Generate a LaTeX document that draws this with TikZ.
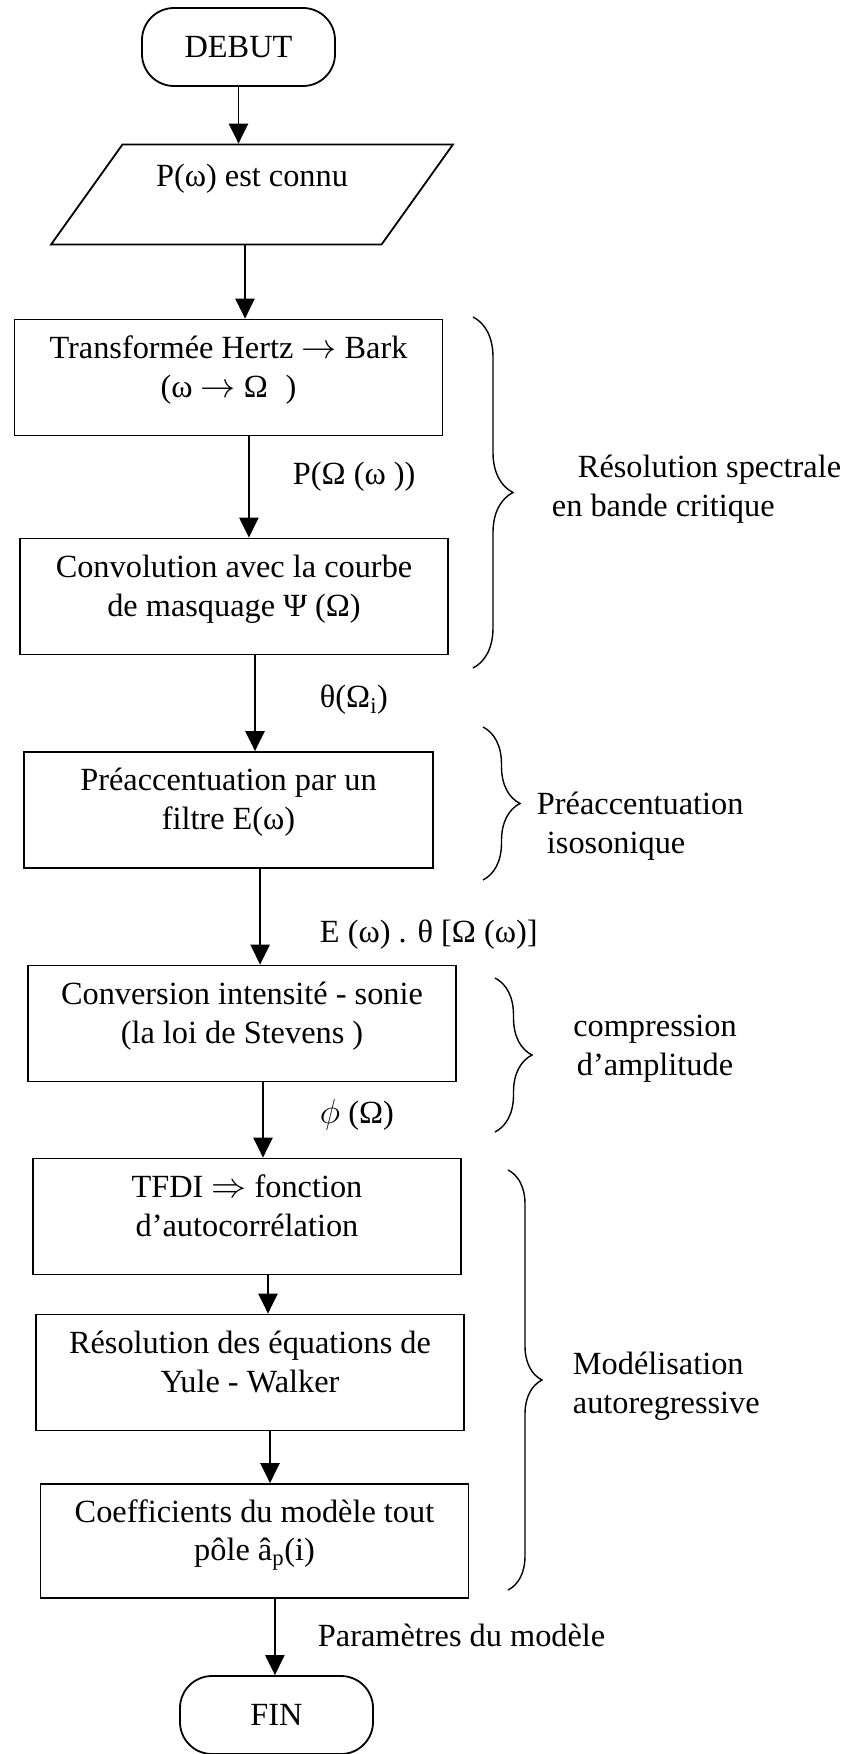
\documentclass[tikz,border=0pt]{standalone}
\usepackage{fontspec}
\setmainfont{Liberation Serif}
\usepackage{tikz}
\usetikzlibrary{arrows.meta,positioning,shapes,decorations.pathreplacing}

\begin{document}
\begin{tikzpicture}[x=0.25mm, y=-0.25mm,
                    every node/.style={font=\fontsize{23pt}{27.5pt}\selectfont},
                    terminal/.style={draw, line width=0.45mm, rounded corners=8mm,
                                     minimum width=48.25mm, minimum height=19.5mm},
                    donnee/.style={draw, line width=0.45mm, trapezium, trapezium left angle=52,
                                   trapezium right angle=128, trapezium stretches=true,
                                   minimum width=100.5mm, minimum height=25mm, text depth=9.8mm},
                    etape/.style={draw, line width=0.45mm, align=center, minimum width=107mm,
                                  minimum height=29mm, text depth=5.5mm},
                    fleche/.style={line width=0.45mm, -{Triangle[length=5mm, width=4.8mm]}},
                    accolade/.style={line width=0.35mm, decorate, decoration={brace, amplitude=#1}},
                    legende/.style={anchor=west, align=left}]

    \useasboundingbox (0,0) rectangle (846,1754);

    \node[terminal] (debut) at (238.5,47) {DEBUT};
    \node[donnee] (spectre) at (252,194.5) {P(ω) est connu};
    \node[etape] (hertz) at (228.5,377.5) {Transformée Hertz $\rightarrow$ Bark\\(ω $\rightarrow$ Ω\hspace{.55em})};
    \node[etape] (convol) at (234,596.5) {Convolution avec la courbe\\de masquage Ψ (Ω)};
    \node[etape, minimum width=102.25mm] (preacc) at (228.5,810) {Préaccentuation par un\\filtre E(ω)};
    \node[etape] (sonie) at (242,1023.5) {Conversion intensité - sonie\\(la loi de Stevens )};
    \node[etape] (tfdi) at (247,1216.5) {TFDI $\Rightarrow$ fonction\\d’autocorrélation};
    \node[etape] (yule) at (250,1372.5) {Résolution des équations de\\Yule - Walker};
    \node[etape, minimum height=28.5mm] (coeff) at (254.5,1541) {Coefficients du modèle tout\\pôle â\textsubscript{p}(i)};
    \node[terminal] (fin) at (276.5,1715) {FIN};

    \draw[fleche] (debut) -- (debut |- spectre.north);
    \draw[fleche] ([xshift=-1.75mm]spectre.south) -- ([xshift=-1.75mm]spectre.south |- hertz.north);
    \draw[fleche] ([xshift=5.1mm]hertz.south) -- ([xshift=5.1mm]hertz.south |- convol.north);
    \draw[fleche] ([xshift=5.25mm]convol.south) -- ([xshift=5.25mm]convol.south |- preacc.north);
    \draw[fleche] ([xshift=7.9mm]preacc.south) -- ([xshift=7.9mm]preacc.south |- sonie.north);
    \draw[fleche] ([xshift=5.25mm]sonie.south) -- ([xshift=5.25mm]sonie.south |- tfdi.north);
    \draw[fleche] ([xshift=5.25mm]tfdi.south) -- ([xshift=5.25mm]tfdi.south |- yule.north);
    \draw[fleche] ([xshift=5mm]yule.south) -- ([xshift=5mm]yule.south |- coeff.north);
    \draw[fleche] ([xshift=5.1mm]coeff.south) -- ([xshift=5.1mm]coeff.south |- fin.north);

    \node[legende] (pomega) at (288,477) {P(Ω (ω ))};
    \node[legende] (theta) at (315,700) {θ(Ω\textsubscript{i})};
    \node[legende] (eomega) at (315,935) {E (ω) . θ [Ω (ω)]};
    \node[legende] (phi) at (315,1115) {$\phi$ (Ω)};
    \node[legende] (param) at (313,1635) {Paramètres du modèle};

    \draw[accolade=10mm] (473,317) -- (473,668);
    \draw[accolade=9.25mm] (483,727) -- (483,880);
    \draw[accolade=9.25mm] (495,978) -- (495,1132);
    \draw[accolade=8.5mm] (508,1170) -- (508,1590);

    \node[legende] (resol) at (547,489) {\hspace*{6.5mm}Résolution spectrale\\en bande critique};
    \node[legende] (isoson) at (532,826.5) {Préaccentuation\\\hspace*{2.5mm}isosonique};
    \node[align=center] (compr) at (655,1048.5) {compression\\d’amplitude};
    \node[legende] (autoreg) at (568,1386.5) {Modélisation\\autoregressive};
\end{tikzpicture}
\end{document}
